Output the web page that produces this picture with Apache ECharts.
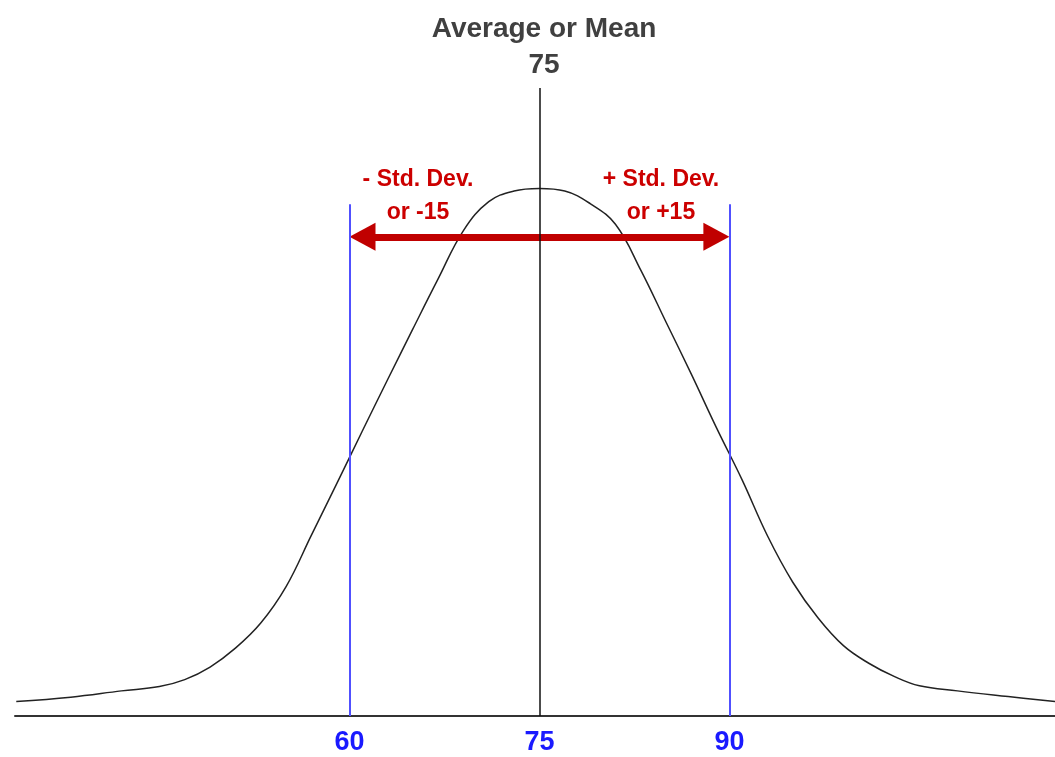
<!DOCTYPE html>
<html>
<head>
<meta charset="utf-8">
<script src="https://cdn.jsdelivr.net/npm/echarts@6/dist/echarts.min.js"></script>
<style>
  html, body { margin: 0; padding: 0; background: #fff; }
  #main { width: 1055px; height: 757px; }
</style>
</head>
<body>
<div id="main"></div>
<script>
// curve points (x = score, y = height, 100 = top of plot)
var curveX = [33.7, 38, 42, 45, 47, 49, 51, 53, 55, 57, 59, 61, 63, 65, 67, 69, 71, 73,
              75, 77, 79, 81, 83, 85, 87, 89, 91, 93, 95, 97, 99, 101, 103, 105, 108, 112, 115.7];
var curveY = [2.3, 3.0, 4.0, 4.7, 5.8, 7.8, 10.8, 14.8, 20.6, 28.8, 37.0, 45.3, 53.5, 61.6, 69.6, 77.3, 81.9, 83.6,
              84.0, 83.6, 81.6, 78.3, 71.0, 62.7, 54.4, 45.8, 37.6, 28.7, 21.3, 15.6, 11.2, 8.4, 6.3, 4.8, 4.0, 3.1, 2.3];

var mean = 75;
var stdDev = 15;
var tickValues = [60, 75, 90];

var curveData = curveX.map(function (x, i) { return [x, curveY[i]]; });

var myChart = echarts.init(document.getElementById('main'));

var option = {
    animation: false,
    title: {
        text: 'Average or Mean\n' + mean,
        left: 539,
        top: 6,
        textAlign: 'center',
        textStyle: {
            fontFamily: 'Liberation Sans',
            fontSize: 28,
            fontWeight: 'bold',
            color: '#404040',
            lineHeight: 36
        }
    },
    graphic: [
        {
            type: 'text',
            x: 418, y: 163,
            style: {
                text: '- Std. Dev.\nor -' + stdDev,
                align: 'center',
                verticalAlign: 'top',
                fill: '#cc0000',
                font: 'bold 23px "Liberation Sans"',
                lineHeight: 33
            }
        },
        {
            type: 'text',
            x: 661, y: 163,
            style: {
                text: '+ Std. Dev.\nor +' + stdDev,
                align: 'center',
                verticalAlign: 'top',
                fill: '#cc0000',
                font: 'bold 23px "Liberation Sans"',
                lineHeight: 33
            }
        }
    ],
    grid: {
        left: 15,
        right: 0,
        top: 88,
        bottom: 41
    },
    xAxis: {
        type: 'value',
        min: 33.6,
        max: 115.7,
        axisLine: { show: true, lineStyle: { color: '#333', width: 2 } },
        axisTick: { show: false },
        splitLine: { show: false },
        axisLabel: {
            customValues: tickValues,
            margin: 13,
            color: '#1a1aff',
            fontFamily: 'Liberation Sans',
            fontWeight: 'bold',
            fontSize: 27
        }
    },
    yAxis: {
        type: 'value',
        min: 0,
        max: 100,
        show: false
    },
    series: [
        {
            // red double arrow between -1 and +1 std dev
            type: 'line',
            data: [],
            z: 1,
            markLine: {
                silent: true,
                symbol: 'none',
                label: { show: false },
                lineStyle: { color: '#c00000', width: 7, type: 'solid' },
                data: [
                    [
                        { coord: [mean - stdDev + 1.03, 76.3], symbol: 'triangle', symbolSize: [28, 26] },
                        { coord: [mean + stdDev - 1.03, 76.3], symbol: 'triangle', symbolSize: [28, 26] }
                    ]
                ]
            }
        },
        {
            type: 'line',
            data: curveData,
            smooth: 0.4,
            showSymbol: false,
            z: 3,
            lineStyle: { color: '#222', width: 1.5 },
            markLine: {
                silent: true,
                symbol: 'none',
                label: { show: false },
                data: [
                    [
                        { coord: [mean - stdDev, 0], lineStyle: { color: '#5050ff', width: 2, type: 'solid' } },
                        { coord: [mean - stdDev, 81.5] }
                    ],
                    [
                        { coord: [mean + stdDev, 0], lineStyle: { color: '#5050ff', width: 2, type: 'solid' } },
                        { coord: [mean + stdDev, 81.5] }
                    ],
                    [
                        { coord: [mean, 0], lineStyle: { color: '#111', width: 1.5, type: 'solid' } },
                        { coord: [mean, 100] }
                    ]
                ]
            }
        }
    ]
};

myChart.setOption(option);
</script>
</body>
</html>
